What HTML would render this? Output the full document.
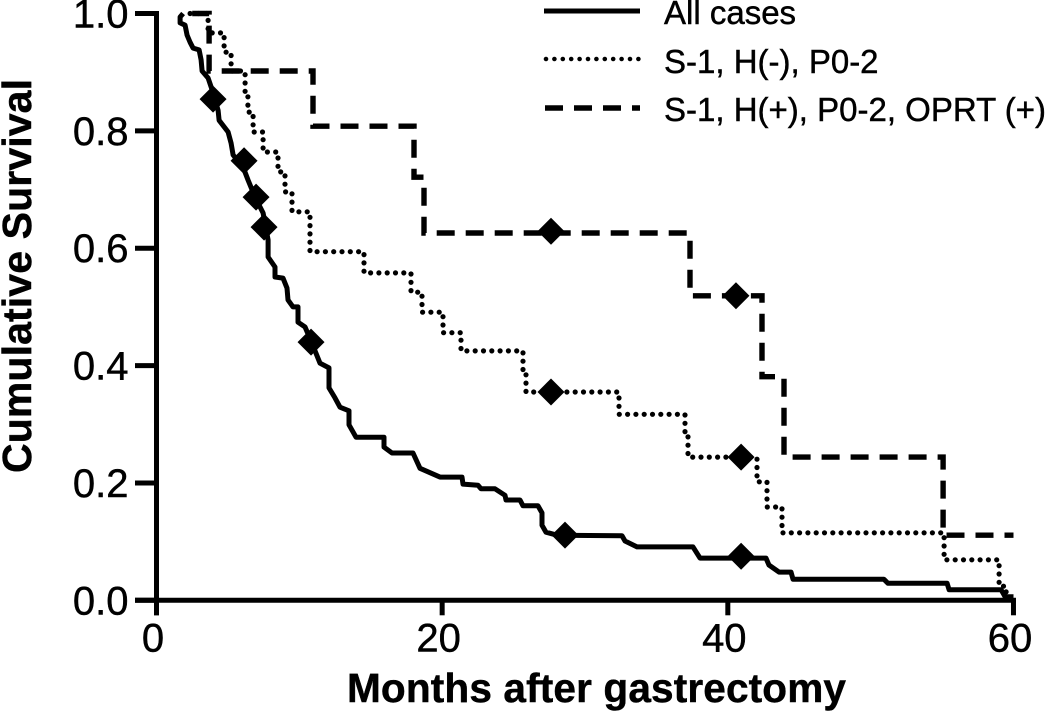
<!DOCTYPE html>
<html>
<head>
<meta charset="utf-8">
<title>Cumulative Survival Chart</title>
<style>
html,body{margin:0;padding:0;background:#fff;}
svg{display:block;}
text{font-family:"Liberation Sans",Arial,sans-serif;fill:#000;stroke:#000;stroke-width:0.45;}
</style>
</head>
<body>
<svg id="chart" xmlns="http://www.w3.org/2000/svg" width="1050" height="711" viewBox="0 0 1050 711"></svg>
<script>
const xTickValues = [0, 20, 40, 60];
const yTickValues = [0, 0.2, 0.4, 0.6, 0.8, 1.0];

const allMonths = [1.86,1.65,1.65,2.0,2.14,2.35,2.56,2.98,3.12,3.19,3.61,3.89,4.31,4.38,5.01,5.22,5.36,6.06,6.41,6.9,7.46,7.81,7.81,8.3,8.3,8.86,9.14,9.21,9.56,9.91,9.91,10.4,10.89,11.45,12.08,12.08,12.5,12.85,13.48,13.48,13.97,15.93,15.93,16.49,17.96,18.45,19.85,21.39,21.46,22.51,22.72,23.7,24.4,24.47,25.45,25.66,26.71,26.99,26.99,27.27,28.04,32.59,32.8,33.64,37.56,38.05,42.67,42.88,43.58,44.42,44.56,50.93,51.21,55.35,55.49,59.13,59.41,60];
const allSurvival = [1.0,.994,.984,.98,.963,.951,.941,.938,.921,.902,.89,.87,.835,.818,.798,.779,.759,.738,.716,.687,.66,.614,.585,.568,.551,.549,.532,.512,.5,.5,.474,.466,.438,.404,.396,.362,.345,.329,.323,.299,.278,.278,.261,.251,.251,.225,.21,.21,.198,.196,.19,.19,.179,.171,.171,.161,.161,.149,.128,.116,.111,.11,.101,.091,.091,.072,.072,.06,.048,.048,.036,.036,.029,.029,.018,.018,.006,.006];

const dottedMonths = [2.35,3.61,4.73,5.22,6.2,6.4,6.76,7.46,8.51,9.0,9.49,10.75,14.53,17.82,18.59,20.06,21.32,25.66,25.87,32.38,37.0,37.21,42.04,42.74,43.79,55.14,58.99,59.48,59.95];
const dottedSurvival = [1.0,.967,.934,.902,.866,.832,.798,.764,.73,.696,.662,.594,.558,.525,.491,.456,.425,.391,.355,.317,.285,.244,.202,.159,.115,.069,.024,.002,0];

const dashedMonths = [2.5,3.68,10.96,18.03,18.73,37.35,42.39,43.93,55.07,60];
const dashedSurvival = [1.0,.902,.808,.721,.626,.519,.381,.244,.111,.111];

const censorAllMonths = [3.96,6.13,6.97,7.53,10.82,28.6,40.93];
const censorAllSurvival = [.854,.749,.687,.636,.44,.111,.075];
const censorDottedMonths = [27.62,40.93];
const censorDottedSurvival = [.355,.244];
const censorDashedMonths = [27.62,40.57];
const censorDashedSurvival = [.629,.519];

const legendLabels = ["All cases", "S-1, H(-), P0-2", "S-1, H(+), P0-2, OPRT (+)"];

const NS = "http://www.w3.org/2000/svg";
const svg = document.getElementById("chart");
const xScale = m => 156.5 + m * 14.283;
const yScale = s => 600.3 - s * 586.8;

function make(tag, attrs) {
  const el = document.createElementNS(NS, tag);
  for (const k in attrs) el.setAttribute(k, attrs[k]);
  svg.appendChild(el);
  return el;
}

// axes
const yAxisLine = make("line", {x1:xScale(0), x2:xScale(0), y1:yScale(1)-2.5, y2:yScale(0)+15, stroke:"#000", "stroke-width":5});


const xAxisLine = make("line", {x1:135, x2:xScale(60)+2.5, y1:yScale(0), y2:yScale(0), stroke:"#000", "stroke-width":5});



yTickValues.forEach(v => {
  const tick = make("line", {x1:135, x2:xScale(0), y1:yScale(v), y2:yScale(v), stroke:"#000", "stroke-width":5});
  
  
  const label = make("text", {x:128.5, y:yScale(v)+14, "text-anchor":"end", "font-size":40});
  
  
  label.textContent = v.toFixed(1);
});
xTickValues.forEach(v => {
  const tick = make("line", {x1:xScale(v), x2:xScale(v), y1:yScale(0), y2:yScale(0)+15, stroke:"#000", "stroke-width":5});
  
  
  const label = make("text", {x:xScale(v)-3.5, y:651.5, "text-anchor":"middle", "font-size":40});
  
  
  label.textContent = String(v);
});

// series
function linePath(ms, ss) {
  return ms.map((m, i) => (i ? "L" : "M") + xScale(m).toFixed(1) + " " + yScale(ss[i]).toFixed(1)).join(" ");
}
function stepPath(ms, ss) {
  let d = "M" + xScale(ms[0]).toFixed(1) + " " + yScale(ss[0]).toFixed(1);
  for (let i = 1; i < ms.length; i++) {
    d += " L" + xScale(ms[i]).toFixed(1) + " " + yScale(ss[i-1]).toFixed(1);
    d += " L" + xScale(ms[i]).toFixed(1) + " " + yScale(ss[i]).toFixed(1);
  }
  return d;
}
const dottedLine = make("path", {d:stepPath(dottedMonths, dottedSurvival), fill:"none", stroke:"#000", "stroke-width":5.2, "stroke-linecap":"round", "stroke-dasharray":"0 8.3"});


const dashedLine = make("path", {d:stepPath(dashedMonths, dashedSurvival), fill:"none", stroke:"#000", "stroke-width":5.4, "stroke-dasharray":"18 11"});


const solidLine = make("path", {d:linePath(allMonths, allSurvival), fill:"none", stroke:"#000", "stroke-width":5, "stroke-linejoin":"round"});



// censor diamonds
function diamonds(ms, ss, name) {
  ms.forEach((m, i) => {
    const cx = xScale(m), cy = yScale(ss[i]), r = 13.5;
    const mark = make("polygon", {points:`${cx},${cy-r} ${cx+r},${cy} ${cx},${cy+r} ${cx-r},${cy}`, fill:"#000"});
    
    
  });
}
diamonds(censorAllMonths, censorAllSurvival, 'marker-all-cases');
diamonds(censorDottedMonths, censorDottedSurvival, 'marker-s1-h-negative');
diamonds(censorDashedMonths, censorDashedSurvival, 'marker-s1-h-positive');

// axis titles
const xTitle = make("text", {x:347, y:702, "font-size":40.6, "font-weight":"bold", textLength:499, lengthAdjust:"spacing"});


xTitle.textContent = "Months after gastrectomy";
const yTitle = make("text", {transform:"translate(31 473) rotate(-90)", x:0, y:0, "font-size":41, "font-weight":"bold", textLength:394, lengthAdjust:"spacing"});


yTitle.textContent = "Cumulative Survival";

// legend
const legendSwatchY = [11, 59, 108];
const legendTextY = [24, 73, 121];
const legendSolid = make("line", {x1:544, x2:640, y1:legendSwatchY[0], y2:legendSwatchY[0], stroke:"#000", "stroke-width":5});


const legendDotted = make("line", {x1:546, x2:640, y1:legendSwatchY[1], y2:legendSwatchY[1], stroke:"#000", "stroke-width":4.6, "stroke-linecap":"round", "stroke-dasharray":"0 8.4"});


const legendDashed = make("line", {x1:545, x2:640, y1:legendSwatchY[2], y2:legendSwatchY[2], stroke:"#000", "stroke-width":5.5, "stroke-dasharray":"18 11"});


legendLabels.forEach((t, i) => {
  const label = make("text", {x:664, y:legendTextY[i], "font-size":33});
  
  
  label.textContent = t;
});
</script>
</body>
</html>
